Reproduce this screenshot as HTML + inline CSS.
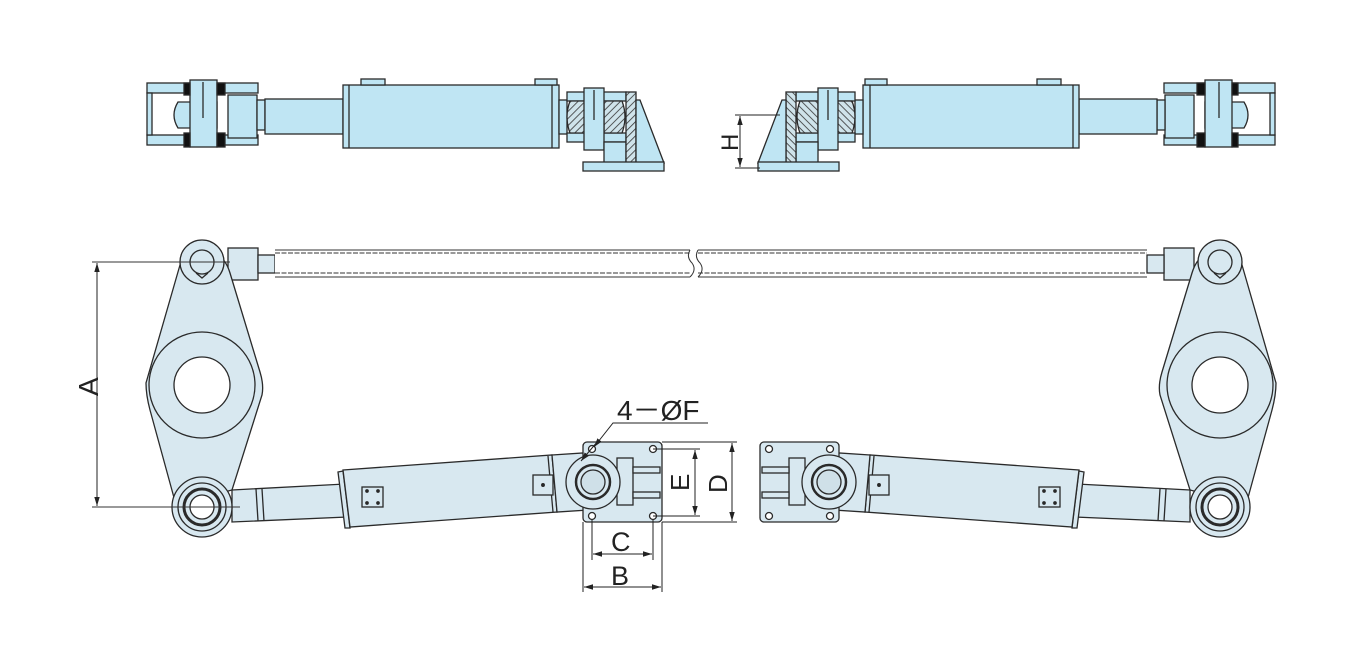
<!DOCTYPE html>
<html><head><meta charset="utf-8"><style>
html,body{margin:0;padding:0;background:#fff;}
svg{display:block;}
text{font-family:"Liberation Sans",sans-serif;fill:#222;}
</style></head><body>
<svg width="1364" height="649" viewBox="0 0 1364 649" xmlns="http://www.w3.org/2000/svg">
<defs>
<pattern id="hat" width="5" height="5" patternUnits="userSpaceOnUse" patternTransform="rotate(45)">
<rect width="5" height="5" fill="#cfe3ea"/><line x1="0" y1="0" x2="0" y2="5" stroke="#333" stroke-width="1.6"/>
</pattern>
<marker id="ar" viewBox="0 0 10 10" refX="10" refY="5" markerWidth="9" markerHeight="9" orient="auto-start-reverse"><path d="M0,2 L10,5 L0,8 z" fill="#222"/></marker>
<g id="half" stroke="#2a2a2a" stroke-width="1.3">
 <g fill="#bfe5f3">
  <rect x="147" y="83" width="111" height="10"/>
  <rect x="147" y="135" width="111" height="10"/>
  <rect x="147" y="93" width="5" height="42"/>
  <path d="M178,102 L217,102 L217,128 L178,128 Q170,115 178,102z"/>
  <rect x="228" y="95" width="29" height="43"/>
  <rect x="257" y="100" width="8" height="30"/>
  <rect x="190" y="80" width="27" height="67"/>
  <rect x="184" y="83" width="6" height="12" fill="#111"/>
  <rect x="217" y="83" width="8" height="12" fill="#111"/>
  <rect x="184" y="133" width="6" height="14" fill="#111"/>
  <rect x="217" y="133" width="8" height="14" fill="#111"/>
  <line x1="203" y1="82" x2="203" y2="118"/>
  <rect x="265" y="99" width="78" height="35"/>
  <rect x="343" y="85" width="216" height="63"/>
  <line x1="349" y1="85" x2="349" y2="148"/>
  <line x1="552" y1="85" x2="552" y2="148"/>
  <rect x="361" y="79" width="24" height="6"/>
  <rect x="535" y="79" width="22" height="6"/>
  <rect x="559" y="100" width="8" height="34"/>
  <rect x="567" y="92" width="59" height="9"/>
  <rect x="567" y="133" width="59" height="9"/>
  <path d="M570,101 L600,101 L600,133 L570,133 Q564,117 570,101z" fill="url(#hat)"/>
  <path d="M604,101 L622,101 Q628,117 622,133 L604,133z" fill="url(#hat)"/>
  <rect x="584" y="88" width="20" height="62"/>
  <line x1="594" y1="90" x2="594" y2="120"/>
  <rect x="604" y="142" width="22" height="21"/>
  <rect x="626" y="92" width="10" height="71" fill="url(#hat)"/>
  <path d="M636,100 L640,100 L664,163 L636,163z"/>
  <rect x="583" y="162" width="81" height="9"/>
 </g>
 <g fill="#d8e8f0">
  <rect x="228" y="248" width="30" height="32"/>
  <rect x="258" y="255" width="17" height="18"/>
  <path d="M182,258 L146,383 Q146,395 150,410 L176,505 L232,490 L262,395 Q264,385 260,372 L230,273 Q220,240 182,258z"/>
  <circle cx="202" cy="262" r="22"/>
  <circle cx="202" cy="262" r="12" fill="none"/>
  <path d="M196,273 L202,278 L208,273" fill="none"/>
  <circle cx="202" cy="385" r="53" fill="none"/>
  <circle cx="202" cy="385" r="28" fill="#fff"/>
  <path d="M232,490 L345,484 L347,517 L232,522z"/>
  <line x1="256" y1="489" x2="258" y2="521"/>
  <line x1="262" y1="489" x2="264" y2="521"/>
  <circle cx="202" cy="507" r="30"/>
  <circle cx="202" cy="507" r="24" fill="none"/>
  <circle cx="202" cy="507" r="18" fill="none" stroke-width="3"/>
  <circle cx="202" cy="507" r="12" fill="#fff"/>
  <path d="M338,472 L343,471 L350,528 L345,528z"/>
  <path d="M343,470 L552,455 L557,512 L350,527z"/>
  <path d="M552,455 L583,453 L588,510 L557,512z"/>
  <line x1="548" y1="456" x2="553" y2="512"/>
  <rect x="362" y="487" width="21" height="20"/>
  <circle cx="367" cy="491" r="1.2" fill="#222"/><circle cx="378" cy="491" r="1.2" fill="#222"/><circle cx="367" cy="503" r="1.2" fill="#222"/><circle cx="378" cy="503" r="1.2" fill="#222"/>
  <rect x="533" y="475" width="20" height="20"/>
  <circle cx="543" cy="485" r="1.3" fill="#222"/>
  <rect x="583" y="442" width="79" height="80" rx="4"/>
  <circle cx="592" cy="449" r="3.5" fill="#fff"/><circle cx="653" cy="449" r="3.5" fill="#fff"/>
  <circle cx="592" cy="516" r="3.5" fill="#fff"/><circle cx="653" cy="516" r="3.5" fill="#fff"/>
  <rect x="617" y="458" width="16" height="47"/>
  <rect x="633" y="467" width="27" height="6"/>
  <rect x="633" y="492" width="27" height="6"/>
  <circle cx="593" cy="482" r="27"/>
  <circle cx="593" cy="482" r="17" stroke-width="2.5"/>
  <circle cx="593" cy="482" r="12" fill="#cfe0e8"/>
 </g>
</g>
</defs>

<use href="#half"/>
<use href="#half" transform="translate(1422,0) scale(-1,1)"/>

<g stroke="#333" stroke-width="1" fill="none">
 <rect x="275" y="252" width="420" height="22" fill="#fff" stroke="none"/>
 <line x1="275" y1="250" x2="690" y2="250"/><line x1="275" y1="253" x2="690" y2="253" stroke-dasharray="5,1.5"/>
 <line x1="275" y1="273" x2="690" y2="273" stroke-dasharray="5,1.5"/><line x1="275" y1="277" x2="690" y2="277"/>
 <line x1="698" y1="250" x2="1147" y2="250"/><line x1="698" y1="253" x2="1147" y2="253" stroke-dasharray="5,1.5"/>
 <line x1="698" y1="273" x2="1147" y2="273" stroke-dasharray="5,1.5"/><line x1="698" y1="277" x2="1147" y2="277"/>
 <path d="M690,250 Q686,257 692,263 Q697,270 690,277"/>
 <path d="M698,250 Q694,257 700,263 Q705,270 698,277"/>
 <line x1="92" y1="262" x2="230" y2="262"/>
 <line x1="92" y1="507" x2="240" y2="507"/>
</g>

<g stroke="#222" stroke-width="1" fill="none">
 <line x1="97" y1="263" x2="97" y2="506" marker-start="url(#ar)" marker-end="url(#ar)"/>
 <line x1="740" y1="116" x2="740" y2="167" marker-start="url(#ar)" marker-end="url(#ar)"/>
 <line x1="735" y1="115" x2="780" y2="115"/>
 <line x1="735" y1="168" x2="760" y2="168"/>
 <line x1="653" y1="449" x2="700" y2="449"/>
 <line x1="653" y1="516" x2="700" y2="516"/>
 <line x1="662" y1="442" x2="737" y2="442"/>
 <line x1="662" y1="522" x2="737" y2="522"/>
 <line x1="695" y1="450" x2="695" y2="515" marker-start="url(#ar)" marker-end="url(#ar)"/>
 <line x1="732" y1="443" x2="732" y2="521" marker-start="url(#ar)" marker-end="url(#ar)"/>
 <line x1="592" y1="520" x2="592" y2="560"/>
 <line x1="653" y1="520" x2="653" y2="560"/>
 <line x1="583" y1="522" x2="583" y2="592"/>
 <line x1="662" y1="522" x2="662" y2="592"/>
 <line x1="593" y1="554" x2="652" y2="554" marker-start="url(#ar)" marker-end="url(#ar)"/>
 <line x1="584" y1="587" x2="661" y2="587" marker-start="url(#ar)" marker-end="url(#ar)"/>
 <polyline points="708,423 613,423 594,447" marker-end="url(#ar)"/>
 <line x1="598" y1="441" x2="581" y2="461" marker-end="url(#ar)"/>
</g>
<g font-size="28">
 <text x="617" y="420">4－ØF</text>
 <text x="611" y="551" font-size="27">C</text>
 <text x="611" y="585" font-size="27">B</text>
 <text transform="translate(98,396) rotate(-90)" font-size="28">A</text>
 <text transform="translate(689,491) rotate(-90)" font-size="26">E</text>
 <text transform="translate(727,493) rotate(-90)" font-size="26">D</text>
 <text transform="translate(738,151) rotate(-90)" font-size="24">H</text>
</g>
</svg>
</body></html>
